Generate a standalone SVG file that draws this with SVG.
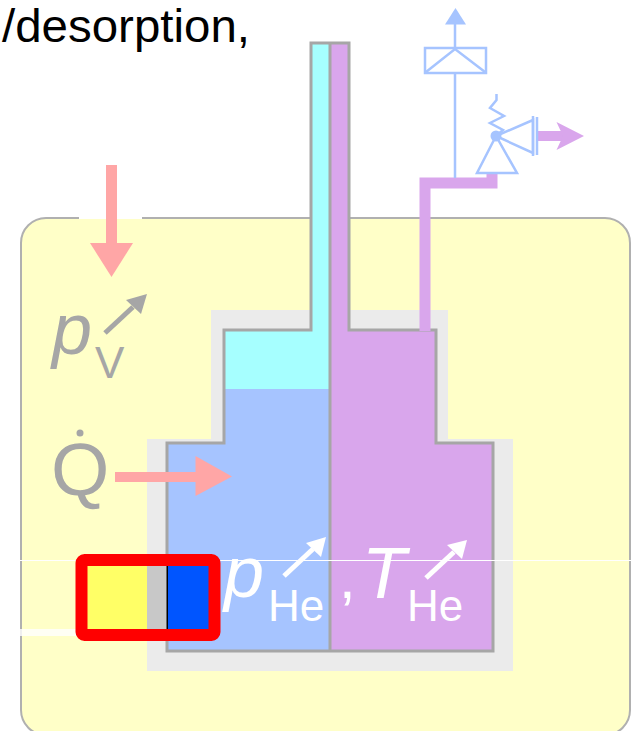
<svg xmlns="http://www.w3.org/2000/svg" width="631" height="731" viewBox="0 0 631 731">
<style>
text{font-family:"Liberation Sans",Arial,sans-serif}
.g{fill:#a6a6a6}
.w{fill:#fff}
.i{font-style:italic}
.v{fill:none;stroke:#a6a6a6;stroke-width:3}
.b{fill:none;stroke:#a6c4ff;stroke-width:2.500}
</style>
<rect width="631" height="731" fill="#fff"/>
<text id="caption" x="2" y="41.500" font-size="46" textLength="248" lengthAdjust="spacingAndGlyphs" fill="#000">/desorption,</text>
<g id="chamber">
<rect x="21" y="218" width="609" height="517" rx="25" fill="#ffffc8" stroke="#b0b0b0" stroke-width="2"/>
<rect x="79" y="216.500" width="63" height="2.500" fill="#fff"/>
</g>
<g id="insulation">
<path d="M211 310H448V439H513V671H147V439H211Z" fill="#ebebeb"/>
</g>
<g id="vessel">
<path d="M311 43H330V389H224V330H311Z" fill="#a6ffff"/>
<path d="M224 389H330V651H167V443H224Z" fill="#a6c4ff"/>
<path d="M330 43H349V330H436V443H493V651H330Z" fill="#d9a6ec"/>
<path class="v" d="M330 43V651M311 43H349V330H436V443H493V651H167V443H224V330H311Z"/>
</g>
<g id="connectors">
<path d="M425 331V183H492V173" fill="none" stroke="#d9a6ec" stroke-width="11"/>
<path d="M538 136H565" fill="none" stroke="#d9a6ec" stroke-width="10"/>
<path d="M556.500 122L584 136L556.500 150L563 136Z" fill="#d9a6ec"/>
<path class="b" d="M455 178V73M455 48V24"/>
<path d="M445 24.500L455.500 8L466 24.500Z" fill="#a6c4ff"/>
<path d="M111.500 165V245" fill="none" stroke="#ffa6a6" stroke-width="11"/>
<path d="M90 243H133L111.500 277Z" fill="#ffa6a6"/>
<path d="M115 477H200" fill="none" stroke="#ffa6a6" stroke-width="10"/>
<path d="M195.500 456L232 476.500L195.500 496Z" fill="#ffa6a6"/>
<path d="M20 560.500H631" fill="none" stroke="#fff" stroke-width="1"/>
<path d="M20 632.500H80" fill="none" stroke="#fff" stroke-width="7" opacity=".8"/>
</g>
<g id="regulator">
<rect x="425" y="48" width="61" height="25" class="b"/>
<path class="b" d="M426 72L455 49L485 72"/>
<path class="b" d="M496.500 94V100L490 108L504 116L490 123L503 130L496 136"/>
<circle cx="496" cy="136" r="5.500" fill="#a6c4ff"/>
<path class="b" d="M496 136L477 173H517ZM496 136L533 120V153Z"/>
<path class="b" d="M533 116V156M537 117V155"/>
</g>
<g id="labels">
<text class="g i" x="52" y="354" font-size="72">p</text>
<text class="g" x="95" y="378" font-size="44">V</text>
<path d="M105 333L133 307" stroke="#a6a6a6" stroke-width="5" fill="none"/>
<path d="M147 294L126 300L141 314Z" fill="#a6a6a6"/>
<text class="g" x="51" y="495" font-size="75">Q</text>
<circle cx="80" cy="433" r="3.500" fill="#a6a6a6"/>
<text class="w i" x="224" y="597" font-size="72">p</text>
<text class="w" x="268" y="621" font-size="44">He</text>
<path d="M284 576L313 549" stroke="#fff" stroke-width="5" fill="none"/>
<path d="M326 537L306 543L321 557Z" fill="#fff"/>
<text class="w" x="339" y="598" font-size="60">,</text>
<text class="w i" x="362" y="598" font-size="72">T</text>
<text class="w" x="407" y="621" font-size="44">He</text>
<path d="M426 578L454 552" stroke="#fff" stroke-width="5" fill="none"/>
<path d="M467 540L447 545L462 559Z" fill="#fff"/>
</g>
<g id="sensor">
<rect x="87" y="566" width="60" height="63" fill="#ffff66"/>
<rect x="147" y="566" width="20" height="63" fill="#c8c8c8"/>
<rect x="168" y="566" width="41" height="63" fill="#0055ff"/>
<rect x="166.500" y="566" width="1.500" height="63" fill="#000"/>
<rect x="81.500" y="560" width="133" height="75" rx="3" fill="none" stroke="#f00" stroke-width="12"/>
</g>
</svg>
